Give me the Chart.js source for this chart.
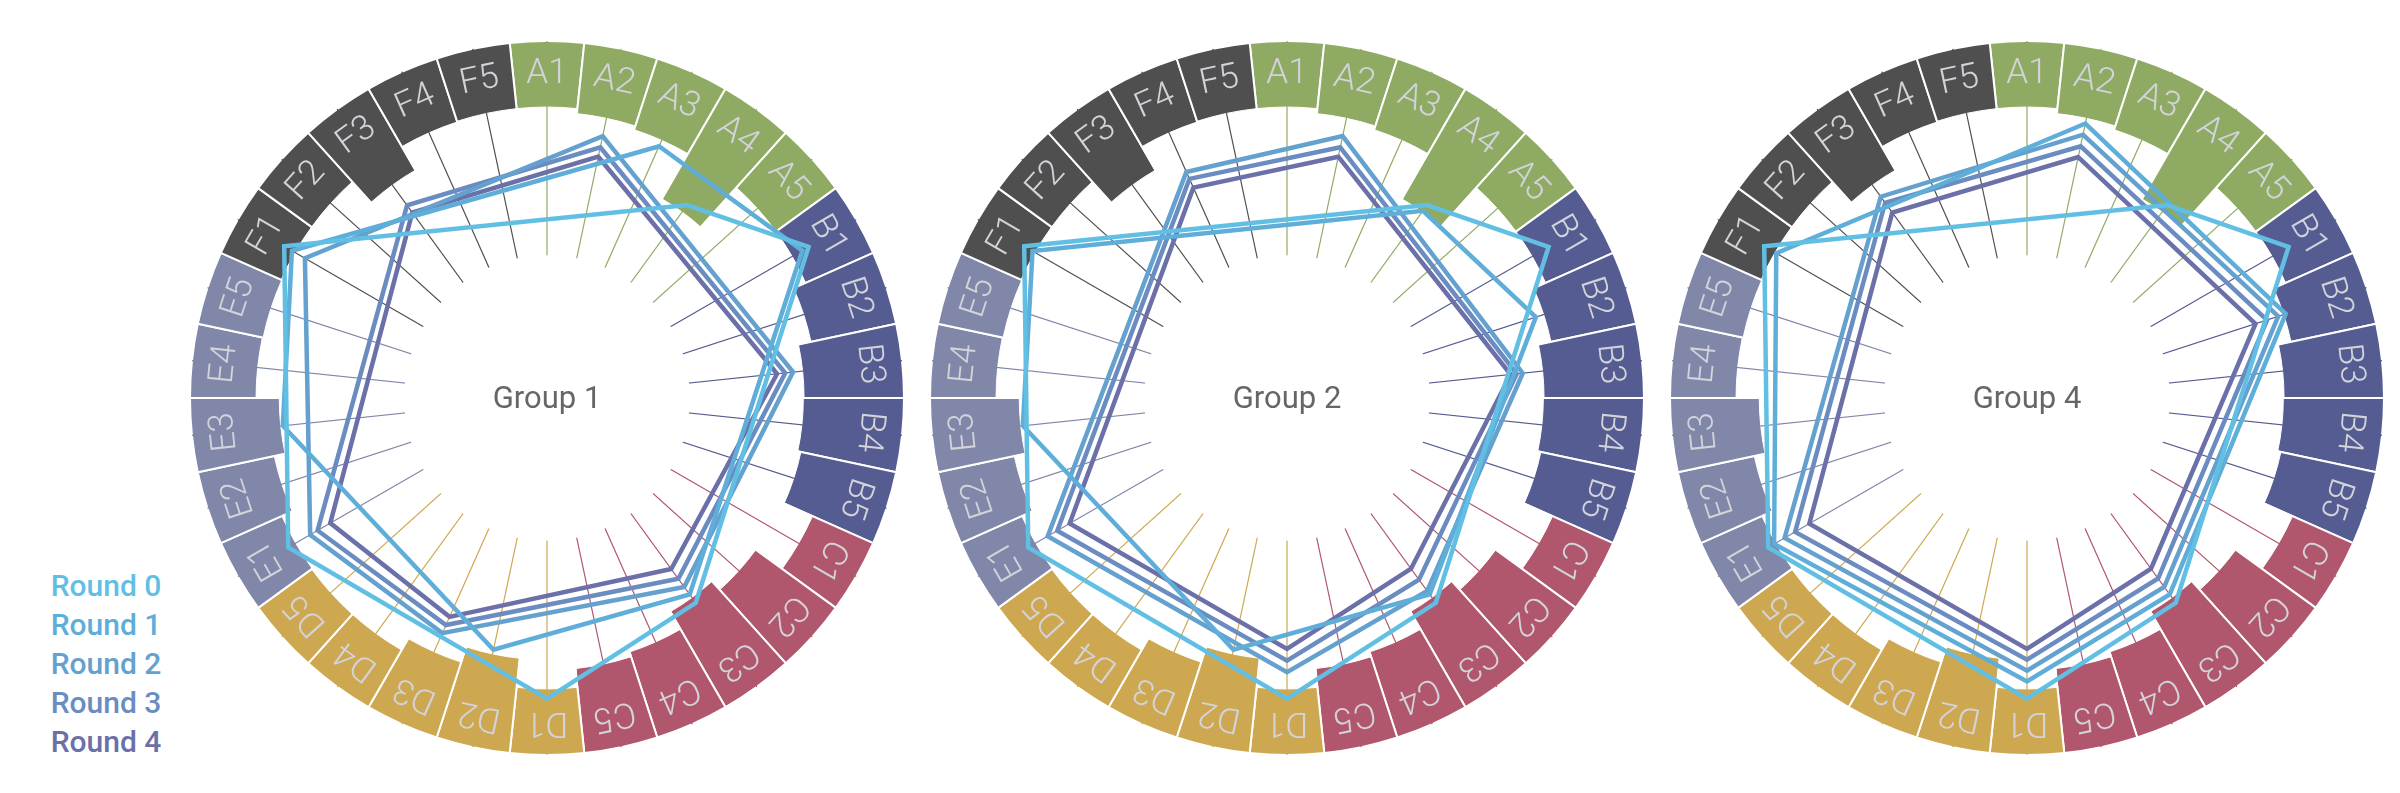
<!DOCTYPE html>
<html>
<head>
<meta charset="utf-8">
<script src="https://cdn.jsdelivr.net/npm/chart.js@4.4.1/dist/chart.umd.min.js"></script>
<style>
  html, body { margin: 0; padding: 0; background: #fff; width: 2400px; height: 793px; overflow: hidden; }
  .group { position: absolute; top: 41px; width: 714px; height: 714px; }
  .group canvas { position: absolute; left: 0; top: 0; }
  #legend { position: absolute; left: 36px; top: 566px; width: 140px; text-align: center;
            font: 500 30px Roboto, "Noto Sans", sans-serif; line-height: 39px; }
</style>
</head>
<body>
<div class="group" style="left:190px"><canvas id="ring1" width="714" height="714"></canvas><canvas id="radar1" width="714" height="714"></canvas></div>
<div class="group" style="left:930px"><canvas id="ring2" width="714" height="714"></canvas><canvas id="radar2" width="714" height="714"></canvas></div>
<div class="group" style="left:1670px"><canvas id="ring3" width="714" height="714"></canvas><canvas id="radar3" width="714" height="714"></canvas></div>
<div id="legend"></div>
<script>
const _ = null;

const categories = [
  'A1', 'A2', 'A3', 'A4', 'A5', 'B1', 'B2', 'B3', 'B4', 'B5',
  'C1', 'C2', 'C3', 'C4', 'C5', 'D1', 'D2', 'D3', 'D4', 'D5',
  'E1', 'E2', 'E3', 'E4', 'E5', 'F1', 'F2', 'F3', 'F4', 'F5'
];
const groupNames = ['Group 1', 'Group 2', 'Group 4'];
const roundNames = ['Round 0', 'Round 1', 'Round 2', 'Round 3', 'Round 4'];
const roundColors = ['#62bfe4', '#5faed9', '#64a1cf', '#6a8cc0', '#6b70a9'];
const familyColors = { A: '#8fab63', B: '#555c91', C: '#b0566d', D: '#cea850', E: '#8087a8', F: '#4f4f4f' };

// outer ring: bar length measured from the outer edge (scale 0..100)
const ringValues = [
  18.5, 19.9, 21.0, 35.6, 20.7,
  20.7, 24.4, 28.0, 28.2, 27.3,
  18.6, 27.7, 30.9, 25.2, 23.8,
  18.5, 26.7, 22.2, 18.5, 18.5,
  18.7, 21.9, 25.0, 18.5, 18.7,
  18.5, 18.5, 26.3, 18.7, 18.5
];

// rounds, one vertex per family (null = no vertex on that spoke)
//             A1    A2    A3    A4    A5    B1    B2    B3    B4    B5    C1    C2    C3    C4    C5    D1    D2    D3    D4    D5    E1    E2    E3    E4    E5    F1    F2    F3    F4    F5
const round0 = [_,    _,    _,    66.8, _,    84.6, _,    _,    _,    _,    _,    _,    70.9, _,    _,    84.2, _,    _,    _,    _,    83.7, _,    _,    _,    _,    85.0, _,    _,    _,    _];

const g1r1 =   [_,    _,    77.2, _,    _,    82.6, _,    _,    _,    _,    _,    _,    68.0, _,    _,    _,    72.1, _,    _,    _,    _,    _,    74.4, _,    _,    82.5, _,    _,    _,    _];
const g1r2 =   [_,    75.0, _,    _,    _,    _,    _,    69.3, _,    _,    _,    _,    65.4, _,    _,    _,    _,    72.1, _,    _,    76.6, _,    _,    _,    _,    78.3, _,    _,    _,    _];
const g1r3 =   [_,    71.8, _,    _,    _,    _,    _,    67.1, _,    _,    _,    _,    62.6, _,    _,    _,    _,    69.6, _,    _,    74.2, _,    _,    _,    _,    _,    _,    66.7, _,    _];
const g1r4 =   [_,    69.1, _,    _,    _,    _,    _,    64.8, _,    _,    _,    _,    59.2, _,    _,    _,    _,    67.1, _,    _,    70.1, _,    _,    _,    _,    _,    _,    64.2, _,    _];

const g2r1 =   [_,    _,    _,    64.8, _,    _,    73.3, _,    _,    _,    _,    _,    68.0, _,    _,    _,    72.1, _,    _,    _,    _,    _,    74.4, _,    _,    82.3, _,    _,    _,    _];
const g2r2 =   [_,    75.0, _,    _,    _,    _,    _,    66.4, _,    _,    _,    _,    66.8, _,    _,    76.8, _,    _,    _,    _,    77.4, _,    _,    _,    _,    _,    _,    _,    69.3, _];
const g2r3 =   [_,    71.8, _,    _,    _,    _,    _,    64.7, _,    _,    _,    _,    62.9, _,    _,    73.6, _,    _,    _,    _,    74.3, _,    _,    _,    _,    _,    _,    _,    67.2, _];
const g2r4 =   [_,    69.1, _,    _,    _,    _,    _,    63.0, _,    _,    _,    _,    59.1, _,    _,    70.3, _,    _,    _,    _,    70.3, _,    _,    _,    _,    _,    _,    _,    64.5, _];

const g4r1 =   [_,    78.6, _,    _,    _,    _,    76.2, _,    _,    _,    _,    _,    68.0, _,    _,    79.4, _,    _,    _,    _,    81.8, _,    _,    _,    _,    81.1, _,    _,    _,    _];
const g4r2 =   [_,    75.4, _,    _,    _,    _,    74.0, _,    _,    _,    _,    _,    65.4, _,    _,    76.4, _,    _,    _,    _,    78.4, _,    _,    _,    _,    _,    _,    69.7, _,    _];
const g4r3 =   [_,    72.1, _,    _,    _,    _,    70.7, _,    _,    _,    _,    _,    62.5, _,    _,    73.3, _,    _,    _,    _,    75.0, _,    _,    _,    _,    _,    _,    67.6, _,    _];
const g4r4 =   [_,    69.0, _,    _,    _,    _,    67.3, _,    _,    _,    _,    _,    59.1, _,    _,    70.3, _,    _,    _,    _,    70.4, _,    _,    _,    _,    _,    _,    64.2, _,    _];

const groupRounds = [
  [round0, g1r1, g1r2, g1r3, g1r4],
  [round0, g2r1, g2r2, g2r3, g2r4],
  [round0, g4r1, g4r2, g4r3, g4r4]
];

const scaleMax = 100;   // outer edge of the ring
const hubValue = 40;    // spokes start here
const labelValue = 91;  // where the ring labels sit

const catColors = categories.map(c => familyColors[c[0]]);

// labels on the ring + group name in the middle
const ringText = {
  id: 'ringText',
  beforeDatasetsDraw(chart) {
    const scale = chart.scales.r;
    const ctx = chart.ctx;
    ctx.save();
    ctx.font = '300 35px Roboto, "Noto Sans", sans-serif';
    ctx.fillStyle = '#d3d3da';
    ctx.textAlign = 'center';
    ctx.textBaseline = 'middle';
    categories.forEach((c, i) => {
      const p = scale.getPointPositionForValue(i, labelValue);
      ctx.save();
      ctx.translate(p.x, p.y);
      ctx.rotate(scale.getIndexAngle(i));
      ctx.fillText(c, 0, 1);
      ctx.restore();
    });
    ctx.restore();
  },
  afterDatasetsDraw(chart, args, opts) {
    const scale = chart.scales.r;
    const ctx = chart.ctx;
    ctx.save();
    ctx.font = '400 31px Roboto, "Noto Sans", sans-serif';
    ctx.fillStyle = '#666';
    ctx.textAlign = 'center';
    ctx.textBaseline = 'middle';
    ctx.fillText(opts.title, scale.xCenter, scale.yCenter + 2);
    ctx.restore();
  }
};

groupNames.forEach((name, g) => {
  // ring bars: colored wedges, then white wedges out to each bar's inner edge
  new Chart(document.getElementById('ring' + (g + 1)), {
    type: 'polarArea',
    data: {
      labels: categories,
      datasets: [
        { data: ringValues.map(v => scaleMax - v), backgroundColor: '#fff', borderColor: '#fff', borderWidth: 1 },
        { data: categories.map(() => scaleMax), backgroundColor: catColors, borderColor: '#fff', borderWidth: 2 }
      ]
    },
    options: {
      responsive: false,
      animation: false,
      events: [],
      plugins: { legend: { display: false }, tooltip: { enabled: false } },
      scales: { r: { display: false, min: 0, max: scaleMax, startAngle: -6 } }
    }
  });

  const rounds = groupRounds[g].map((vals, i) => ({
    label: roundNames[i],
    data: vals,
    borderColor: roundColors[i],
    borderWidth: 4.5,
    borderJoinStyle: 'miter',
    pointRadius: 0,
    fill: false,
    spanGaps: true
  }));
  // white hub that hides the inner part of the spokes
  rounds.push({
    data: categories.map(() => hubValue),
    backgroundColor: '#fff',
    borderWidth: 0,
    pointRadius: 0,
    fill: 'origin'
  });

  new Chart(document.getElementById('radar' + (g + 1)), {
    type: 'radar',
    data: { labels: categories, datasets: rounds },
    options: {
      responsive: false,
      animation: false,
      events: [],
      elements: { line: { tension: 0 } },
      plugins: { legend: { display: false }, tooltip: { enabled: false }, ringText: { title: name } },
      scales: {
        r: {
          min: 0,
          max: scaleMax,
          startAngle: 0,
          grid: { display: false },
          ticks: { display: false },
          pointLabels: { display: false },
          angleLines: { display: true, lineWidth: 1.2, color: ctx => catColors[ctx.index] }
        }
      }
    },
    plugins: [ringText]
  });
});

const legend = document.getElementById('legend');
roundNames.forEach((r, i) => {
  const d = document.createElement('div');
  d.textContent = r;
  d.style.color = roundColors[i];
  legend.appendChild(d);
});
</script>
</body>
</html>
